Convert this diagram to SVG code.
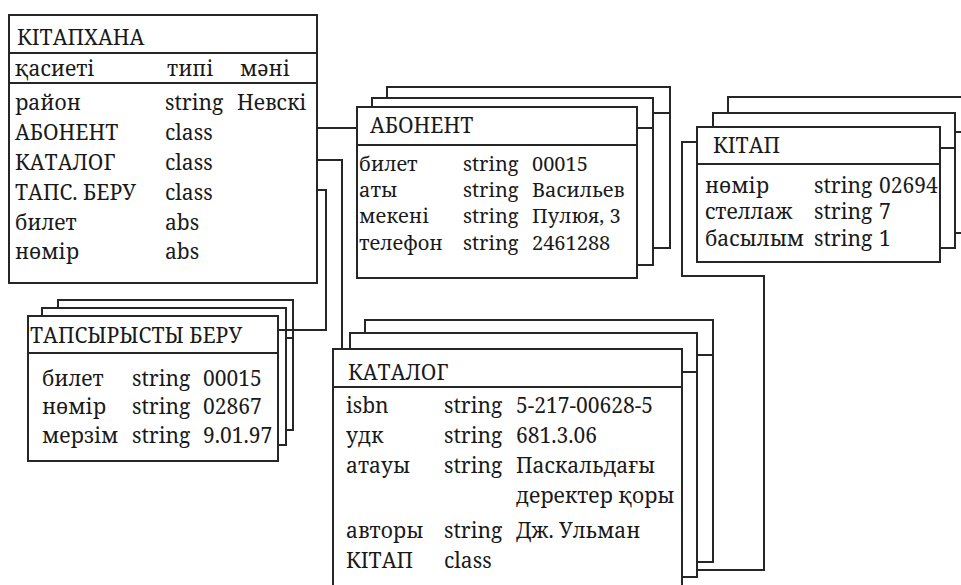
<svg xmlns="http://www.w3.org/2000/svg" width="961" height="585" viewBox="0 0 961 585">
<style>
.b{fill:#fff;stroke:#262626;stroke-width:2}
.l{fill:none;stroke:#262626;stroke-width:2}
text{font-family:"Noto Serif","DejaVu Serif",serif;font-size:21px;fill:#1a1a1a}
text.r{font-size:20px}
</style>
<rect width="961" height="585" fill="#fff"/>
<g id="connectors">
<path class="l" d="M317,128 H357"/>
<path class="l" d="M317,160 H342 V349"/>
<path class="l" d="M317,190 H326 V330 H278"/>
<path class="l" d="M697,570 H764 V276 H682 V142 H697"/>
</g>
<g id="kitapkhana">
<rect class="b" x="9" y="15" width="308" height="268"/>
<path class="l" d="M9,53 H317 M9,83 H317"/>
<text x="17" y="45">КІТАПХАНА</text>
<text x="15" y="76">қасиеті</text>
<text x="167" y="76">типі</text>
<text x="240" y="76">мәні</text>
<text x="15" y="110">район</text>
<text x="165" y="110">string</text>
<text x="237" y="110">Невскі</text>
<text x="15" y="140">АБОНЕНТ</text>
<text x="165" y="140">class</text>
<text x="15" y="170">КАТАЛОГ</text>
<text x="165" y="170">class</text>
<text x="15" y="200">ТАПС. БЕРУ</text>
<text x="165" y="200">class</text>
<text x="15" y="230">билет</text>
<text x="165" y="230">abs</text>
<text x="15" y="259">нөмір</text>
<text x="165" y="259">abs</text>
</g>
<g id="abonent">
<path class="l" d="M387,98 V87 H670 V248 H653 M653,113 H670"/>
<path class="l" d="M372,107 V98 H653 V265 H637 M637,128 H653"/>
<rect class="b" x="357" y="107" width="280" height="171"/>
<path class="l" d="M357,145 H637"/>
<text x="370" y="133">АБОНЕНТ</text>
<text class="r" x="359" y="171">билет</text>
<text class="r" x="463" y="171">string</text>
<text class="r" x="532" y="171">00015</text>
<text class="r" x="359" y="197">аты</text>
<text class="r" x="463" y="197">string</text>
<text class="r" x="532" y="197">Васильев</text>
<text class="r" x="359" y="223">мекені</text>
<text class="r" x="463" y="223">string</text>
<text class="r" x="532" y="223">Пулюя, 3</text>
<text class="r" x="359" y="250">телефон</text>
<text class="r" x="463" y="250">string</text>
<text class="r" x="532" y="250">2461288</text>
</g>
<g id="kitap">
<path class="l" d="M728,113 V97 H975 V233 H955 M955,132 H975"/>
<path class="l" d="M713,127 V113 H955 V248 H940 M940,148 H955"/>
<rect class="b" x="697" y="127" width="243" height="135"/>
<path class="l" d="M697,164 H940"/>
<text x="713" y="153">КІТАП</text>
<text x="705" y="193">нөмір</text>
<text x="814" y="193">string</text>
<text x="879" y="193">02694</text>
<text x="705" y="219">стеллаж</text>
<text x="814" y="219">string</text>
<text x="879" y="219">7</text>
<text x="705" y="246">басылым</text>
<text x="814" y="246">string</text>
<text x="879" y="246">1</text>
</g>
<g id="tapsyrys">
<path class="l" d="M58,308 V300 H293 V430 H286 M286,338 H293"/>
<path class="l" d="M42,316 V308 H286 V445 H278"/>
<rect class="b" x="28" y="316" width="250" height="145"/>
<path class="l" d="M28,353 H278 M278,330 H293"/>
<text x="30" y="343">ТАПСЫРЫСТЫ БЕРУ</text>
<text x="42" y="386">билет</text>
<text x="132" y="386">string</text>
<text x="203" y="386">00015</text>
<text x="42" y="414">нөмір</text>
<text x="132" y="414">string</text>
<text x="203" y="414">02867</text>
<text x="42" y="443">мерзім</text>
<text x="132" y="443">string</text>
<text x="203" y="443">9.01.97</text>
</g>
<g id="katalog">
<path class="l" d="M365,333 V320 H713 V562 H697 M697,355 H713"/>
<path class="l" d="M350,349 V333 H697 V577 H682 M682,372 H697"/>
<rect class="b" x="333" y="349" width="349" height="260"/>
<path class="l" d="M333,387 H682"/>
<text x="348" y="380">КАТАЛОГ</text>
<text x="346" y="413">isbn</text>
<text x="444" y="413">string</text>
<text x="516" y="413">5-217-00628-5</text>
<text x="346" y="443">удк</text>
<text x="444" y="443">string</text>
<text x="516" y="443">681.3.06</text>
<text x="346" y="473">атауы</text>
<text x="444" y="473">string</text>
<text x="516" y="473">Паскальдағы</text>
<text x="516" y="503">деректер қоры</text>
<text x="346" y="538">авторы</text>
<text x="444" y="538">string</text>
<text x="516" y="538">Дж. Ульман</text>
<text x="346" y="568">КІТАП</text>
<text x="444" y="568">class</text>
</g>
</svg>
